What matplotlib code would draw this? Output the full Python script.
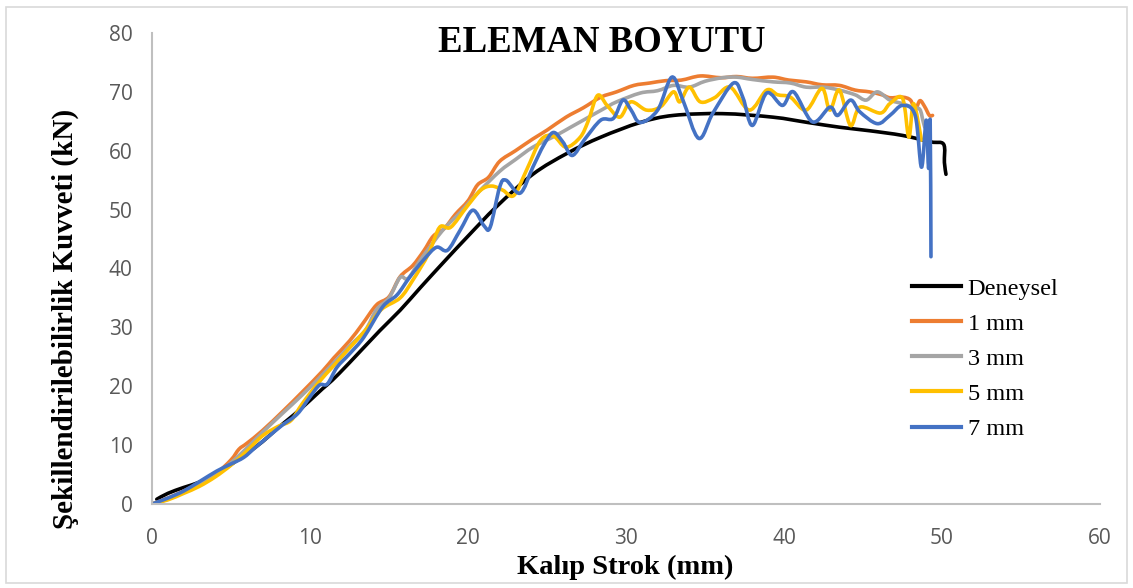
"""
ELEMAN BOYUTU - force vs. stroke curves for different element sizes
"""

import numpy as np
import matplotlib
matplotlib.use('Agg')
import matplotlib.pyplot as plt
from matplotlib.patches import Rectangle, PathPatch
from matplotlib.path import Path
from matplotlib.lines import Line2D

# Data
labels = ['Deneysel', '1 mm', '3 mm', '5 mm', '7 mm']
colors = ['#000000', '#ED7D31', '#A5A5A5', '#FFC000', '#4472C4']

x_deneysel = [0.3, 1.0, 2.0, 3.0, 4.0, 5.0, 6.0, 7.0, 8.0, 9.0, 10.0, 10.8, 11.4,
              12.5, 14.4, 15.7, 17.0, 18.5, 20.0, 21.8, 24.1, 26.3, 28.4, 30.9,
              33.0, 36.1, 39.3, 41.5, 43.5, 45.4, 47.5, 49.3, 50.1, 50.15, 50.25]
y_deneysel = [0.8, 1.8, 2.8, 3.7, 5.0, 6.7, 8.6, 10.6, 13.0, 15.2, 17.6, 19.6, 21.0,
              24.0, 29.4, 32.9, 36.8, 41.2, 45.5, 50.5, 56.0, 59.6, 62.3, 64.8,
              66.0, 66.3, 65.7, 64.8, 64.0, 63.4, 62.6, 61.5, 61.1, 58.0, 56.0]

x_1mm = [0, 1, 2, 3, 4, 5, 5.5, 6, 7, 8.3, 9.5, 10.8, 11.5, 12.5, 13.3, 14.2, 15,
         15.7, 16.5, 17.2, 17.8, 18.5, 19.2, 20, 20.6, 21.3, 22, 23, 24.1, 25,
         26.2, 27.3, 28.4, 29.4, 30.5, 31.5, 32.5, 33.5, 34.7, 36, 37, 38, 39.3,
         40.3, 41.4, 42.4, 43.5, 44.5, 45.4, 46.2, 46.7, 47.5, 48.0, 48.3, 48.6,
         48.9, 49.2, 49.4]
y_1mm = [0, 1.0, 2.2, 3.5, 5.0, 7.5, 9.3, 10.3, 12.5, 15.8, 19.0, 22.6, 24.8,
         27.7, 30.5, 33.8, 35.2, 38.6, 40.5, 43.0, 45.5, 46.8, 49.2, 51.5, 54.2,
         55.5, 58.2, 60.0, 62.0, 63.5, 65.7, 67.3, 69.1, 70.0, 71.1, 71.5, 71.9,
         72.0, 72.7, 72.4, 72.6, 72.3, 72.5, 72.0, 71.7, 71.2, 71.1, 70.3, 70.0,
         69.5, 69.0, 69.1, 68.6, 67.0, 68.5, 67.5, 66.0, 66.0]

x_3mm = [0, 1, 2, 3, 4, 5, 6, 7, 8.3, 9.5, 10.8, 12.5, 13.5, 14.2, 15, 15.7,
         16.2, 17, 18.4, 19.5, 20.6, 22, 23, 24.1, 25.5, 26.5, 27.5, 28.5, 29.4,
         30.9, 32, 33, 34, 35, 36.1, 37, 38, 39.3, 40.4, 41.4, 42.5, 43.5, 44.5,
         45.2, 45.9, 46.7, 47.5, 48.2, 48.6, 48.8, 48.9]
y_3mm = [0, 0.8, 2.0, 3.3, 4.8, 7.0, 9.5, 12.2, 15.5, 18.5, 22.0, 26.8, 29.5,
         33.0, 35.0, 38.5, 38.3, 41.5, 46.5, 49.5, 52.8, 56.5, 58.5, 60.6, 62.5,
         64.0, 65.5, 67.0, 68.3, 69.8, 70.2, 71.1, 70.8, 71.8, 72.4, 72.5, 72.1,
         71.7, 71.5, 70.8, 70.8, 70.3, 69.5, 68.6, 70.0, 68.6, 68.0, 67.3, 67.0,
         65.0, 64.0]

x_5mm = [0, 1, 2, 3, 4, 5, 6, 7, 8, 8.8, 9.5, 10.5, 11.5, 12.5, 13.5, 14.5, 15.7,
         16.5, 17.5, 18.2, 18.9, 19.9, 20.8, 21.5, 22.2, 22.9, 23.7, 24.6, 25.4,
         26.2, 27.1, 27.6, 28.2, 28.8, 29.6, 30.3, 31.3, 32.2, 33, 33.4, 34, 34.7,
         35.6, 36.6, 37.8, 38.9, 39.6, 40.4, 41.4, 42.4, 42.9, 43.5, 44.2, 44.8,
         46.1, 46.7, 47.5, 47.9, 48.2, 48.7]
y_5mm = [0, 0.7, 1.8, 3.0, 4.6, 6.6, 9.0, 11.6, 13.2, 14.2, 17.0, 20.5, 23.5,
         26.5, 29.5, 33.0, 35.0, 38.0, 42.5, 47.0, 47.0, 50.4, 53.3, 54.0, 53.3,
         52.4, 56.7, 61.8, 62.5, 60.6, 62.3, 65.0, 69.4, 67.7, 65.7, 68.3, 66.9,
         67.5, 70.0, 68.3, 70.8, 68.3, 69.0, 70.8, 66.9, 70.3, 69.5, 69.1, 66.9,
         70.6, 66.9, 70.3, 64.3, 67.4, 66.4, 68.0, 68.9, 62.3, 68.0, 61.8]

x_7mm = [0, 1, 2, 3, 4.1, 5, 5.8, 6.5, 7.3, 8.2, 9.2, 10, 10.6, 11.1, 11.7, 12.5,
         13.4, 14.6, 15.5, 16.3, 17.2, 18.0, 18.7, 19.5, 20.3, 21.0, 21.4, 22.0,
         22.4, 23.3, 24.1, 24.8, 25.4, 26.0, 26.6, 27.4, 28.4, 29.2, 29.8, 30.3,
         30.9, 32.0, 32.9, 33.6, 34.6, 35.5, 36.8, 37.4, 38.0, 38.9, 39.9, 40.6,
         41.8, 42.9, 43.4, 44.2, 44.8, 45.9, 46.7, 47.5, 48.3, 48.7, 49.0, 49.15,
         49.25, 49.3]
y_7mm = [0, 1.0, 2.2, 3.8, 5.6, 6.8, 7.9, 9.5, 11.3, 13.3, 15.3, 18.2, 20.2,
         20.4, 23.2, 25.5, 28.3, 33.5, 35.5, 38.5, 41.5, 43.6, 43.1, 46.5, 49.9,
         47.3, 47.0, 53.8, 55.0, 52.8, 57.2, 61.0, 63.1, 61.5, 59.2, 62.0, 65.2,
         65.5, 68.6, 67.0, 64.8, 66.9, 72.5, 68.6, 62.1, 66.4, 71.5, 69.0, 64.3,
         69.8, 67.7, 70.0, 64.9, 67.4, 66.0, 68.6, 66.6, 64.6, 66.0, 67.7, 66.0,
         57.2, 65.2, 57.0, 65.0, 42.0]

series_x = [x_deneysel, x_1mm, x_3mm, x_5mm, x_7mm]
series_y = [y_deneysel, y_1mm, y_3mm, y_5mm, y_7mm]

TITLE_FONT = 'Liberation Serif'
TICK_FONT = 'Open Sans'
TICK_COLOR = '#595959'
AXIS_COLOR = '#BFBFBF'
LINE_WIDTH = 2.6


def smooth_path(xs, ys):
    """Excel-style smoothed line: Catmull-Rom segments as cubic Beziers"""
    p = np.column_stack([xs, ys]).astype(float)
    verts = [p[0]]
    codes = [Path.MOVETO]
    n = len(p)
    for i in range(n - 1):
        p0 = p[i - 1] if i > 0 else p[i]
        p1 = p[i]
        p2 = p[i + 1]
        p3 = p[i + 2] if i + 2 < n else p[i + 1]
        c1 = p1 + (p2 - p0) / 6.0
        c2 = p2 - (p3 - p1) / 6.0
        verts += [c1, c2, p2]
        codes += [Path.CURVE4] * 3
    return Path(verts, codes)


def make_chart():
    fig = plt.figure(figsize=(11.33, 5.88), dpi=100)
    fig.patch.set_facecolor('white')
    ax = fig.add_axes([0.1342, 0.1429, 0.8367, 0.8010])

    handles = []
    for xs, ys, lab, col in zip(series_x, series_y, labels, colors):
        patch = PathPatch(smooth_path(xs, ys), facecolor='none', edgecolor=col,
                          linewidth=LINE_WIDTH, joinstyle='round',
                          capstyle='round')
        ax.add_patch(patch)
        handles.append(Line2D([], [], color=col, linewidth=3, label=lab))

    ax.set_xlim(0, 60)
    ax.set_ylim(0, 80)
    ax.set_xticks(range(0, 61, 10))
    ax.set_yticks(range(0, 81, 10))
    ax.tick_params(length=0, labelsize=15, labelcolor=TICK_COLOR)
    ax.tick_params(axis='y', pad=14)
    ax.tick_params(axis='x', pad=17)
    for lbl in ax.get_xticklabels() + ax.get_yticklabels():
        lbl.set_fontfamily(TICK_FONT)

    for side in ['top', 'right']:
        ax.spines[side].set_visible(False)
    for side in ['left', 'bottom']:
        ax.spines[side].set_color(AXIS_COLOR)
        ax.spines[side].set_linewidth(1.5)

    ax.set_xlabel('Kalıp Strok (mm)', fontfamily=TITLE_FONT, fontweight='bold',
                  fontsize=20.5, va='center')
    ax.xaxis.set_label_coords(0.499, -0.134)
    ax.set_ylabel('Şekillendirilebilirlik Kuvveti (kN)', fontfamily=TITLE_FONT,
                  fontweight='bold', fontsize=21)
    ax.yaxis.set_label_coords(-0.077, 0.393)

    fig.text(0.531, 0.928, 'ELEMAN BOYUTU', fontfamily=TITLE_FONT,
             fontweight='bold', fontsize=26.5, ha='center', va='center')

    ax.legend(handles=handles, loc='upper left', bbox_to_anchor=(0.791, 0.5015),
              frameon=False, prop={'family': TITLE_FONT, 'size': 17.5},
              handlelength=2.05, handletextpad=0.25, labelspacing=0.54,
              borderaxespad=0)

    # light gray chart-area border
    fig.patches.append(Rectangle((0.005, 0.008), 0.99, 0.98,
                                 transform=fig.transFigure, fill=False,
                                 edgecolor='#D9D9D9', linewidth=1.2))

    plt.savefig('out.png', dpi=100, facecolor='white')


if __name__ == "__main__":
    make_chart()
